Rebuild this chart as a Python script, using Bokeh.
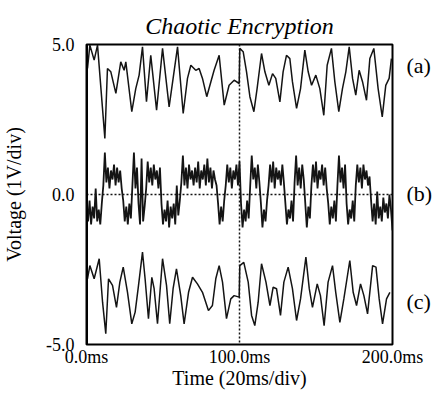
from bokeh.plotting import figure
from bokeh.models import Range1d, FixedTicker, Span, LinearAxis
from bokeh.embed import file_html
from bokeh.resources import INLINE

# ---- data ----
# (a) chaotic carrier
a_t = [0.65, 2.2, 5.0, 7.2, 12.0, 13.7, 15.9, 19.2, 22.4, 24.6, 25.7, 29.6, 32.2, 34.4, 36.6,
       39.2, 42.0, 45.8, 49.7, 54.0, 59.5, 63.2, 66.0, 68.2, 71.4, 73.6, 75.8, 78.6, 81.3, 83.4,
       86.7, 90.0, 93.2, 96.5, 99.8,
       100.2, 102.4, 104.6, 106.8, 109.4, 111.5, 114.4, 116.6, 119.2, 121.6, 123.7, 126.4, 128.5,
       130.7, 132.9, 134.6, 137.3, 139.9, 142.7, 144.9, 147.1, 149.9, 152.5, 155.1, 157.3, 160.1,
       162.3, 164.9, 167.3, 169.5, 171.7, 173.9, 176.0, 178.2, 180.4, 183.0, 185.2, 187.8, 190.6,
       193.3, 195.6, 197.8, 199.3]
a_v = [4.2, 4.98, 4.48, 4.98, 1.87, 4.2, 4.09, 3.37, 4.42, 4.14, 4.42, 2.76, 3.53, 3.98, 4.92,
       3.09, 4.64, 2.81, 4.87, 2.92, 4.92, 2.7, 3.87, 4.31, 4.14, 4.2, 3.87, 3.26, 3.76, 4.14,
       4.64, 2.98, 3.64, 3.81, 3.7,
       4.87, 4.76, 4.09, 3.26, 2.76, 3.53, 4.7, 4.09, 3.64, 4.03, 3.87, 3.09, 4.09,
       4.64, 4.53, 3.76, 2.87, 3.53, 4.81, 4.09, 3.64, 3.98, 3.53, 2.64, 4.31, 4.87,
       3.76, 2.76, 3.53, 4.09, 4.92, 3.87, 3.31, 4.14, 3.76, 3.14, 4.53, 4.87, 3.53,
       2.59, 3.64, 3.87, 4.53]

# (b) encrypted signal, one sample per ms
b_step = 1.0
b_v = [-0.3, -0.9, -0.2, -1.0, -0.4, -0.8, 0.2, -0.9, -0.5, -1.0, -0.3,
       0.3, 1.4, 0.4, 0.9, 0.2, 0.8, 0.5, 1.0, 0.3, 0.9, 0.4, 0.8, 0.2,
       -0.2, -0.9, -0.4, -1.0, -0.3, -0.8,
       0.3, 1.4, 0.2, 0.9,
       -0.3, -1.0, 1.2, -0.9, -0.4,
       0.2, 1.1, 0.4, 0.9, 0.3, 1.0, 0.5, 0.8, 0.2, 0.9,
       -0.3, -1.0, -0.5, -0.9, -0.2, -1.1, -0.4, -0.8, -0.3, -1.0, 0.3, -0.7, -0.2,
       0.4, 1.3, 0.3, 0.9, 0.2, 1.0, 0.5, 0.8, 0.3, 0.9, 0.4, 1.1, 0.2, 0.8, 0.5, 1.0,
       0.3, 1.2, 0.4, 0.9, 0.2, 0.8, 0.5, 0.3,
       -0.3, -1.0, -0.4, -0.9, -0.2,
       0.3, 1.0, 0.4, 0.9, 0.2, 0.8, 0.5, 1.0, 0.3, 1.1,
       -0.3, -1.1, -0.5, -0.9, -0.2, -0.8,
       0.3, 1.3, 0.5, 0.9, 0.2, 1.0, 0.4,
       -0.3, -1.1, -0.5, -0.9, -0.2,
       0.3, 1.0, 0.4, 1.1, 0.2, 0.9, 0.5, 0.8, 0.3, 1.0, 0.4,
       -0.3, -1.0, -0.5, -0.8, -0.2, -0.9,
       0.4, 1.3, 0.3, 0.9, 0.2, 1.0, 0.5,
       -0.3, -1.1, -0.4, -0.8,
       0.3, 1.0, 0.4, 1.1, 0.2, 0.8, 0.5, 1.0, 0.3, 0.9, 0.2,
       -0.3, -1.0, -0.4, -0.8, -0.2, -0.9,
       0.3, 1.3, 0.4, 0.9, 0.2, 1.0,
       -0.3, -1.0, -0.5, -0.8, -0.2, -0.9,
       0.3, 1.0, 0.4, 0.9, 0.2, 1.0, 0.5, 0.8, 0.3, 0.6,
       -0.2, -0.9, -0.3, -1.0, 0.1, -0.8, -0.4, -0.9, -0.1, -0.6, -0.3, -0.8, 0.0, -0.5, -1.2]
b_t = [i * b_step for i in range(len(b_v))]

# (c) recovered signal
c_t = [0.65, 2.2, 5.0, 8.3, 10.5, 12.6, 14.4, 17.0, 19.6, 21.8, 24.0, 26.8, 29.6, 31.8, 34.0,
       36.6, 38.3, 40.5, 42.7, 44.2, 46.4, 49.7, 52.3, 54.4, 56.6, 58.8, 61.6, 63.8, 66.7, 69.3,
       72.5, 75.8, 79.7, 82.3, 84.5, 86.7, 88.9, 91.5, 94.3, 96.5, 99.8,
       100.2, 102.8, 105.7, 107.9, 110.0, 112.2, 114.4, 117.3, 119.9, 122.0, 124.2, 126.8, 129.0,
       131.8, 134.6, 137.3, 139.9, 143.4, 145.6, 147.7, 150.8, 152.9, 155.3, 157.9, 160.8, 162.9,
       165.6, 168.2, 172.1, 174.3, 176.5, 179.1, 181.3, 183.7, 187.0, 189.2, 191.3, 193.5, 196.1,
       198.3]
c_v = [-2.81, -2.37, -2.81, -2.14, -3.59, -4.64, -2.81, -3.03, -3.76, -2.92, -2.42, -3.26, -4.31,
       -3.92, -3.03, -1.92, -2.81, -4.14, -2.76, -3.14, -4.31, -2.14, -3.03, -4.31, -3.14, -2.48,
       -3.37, -4.31, -3.26, -2.76, -2.98, -3.26, -3.87, -3.7, -2.81, -2.37, -2.92, -4.14, -3.48,
       -3.37, -3.42,
       -2.37, -2.26, -2.92, -4.03, -4.37, -3.59, -2.31, -2.92, -3.7, -3.09, -3.14, -4.03, -2.92,
       -2.42, -3.14, -4.2, -3.48, -2.09, -3.14, -3.76, -2.98, -3.37, -4.37, -2.92, -2.37, -3.26,
       -4.26, -3.48, -2.2, -3.26, -3.7, -2.98, -3.37, -3.98, -2.37, -2.42, -3.48, -4.31, -3.48,
       -3.26]

x_ticks = [0, 100, 200]
x_tick_labels = ["0.0ms", "100.0ms", "200.0ms"]
y_ticks = [-5, 0, 5]
y_tick_labels = ["-5.0", "0.0", "5.0"]
trace_names = ["(a)", "(b)", "(c)"]
trace_label_v = [4.3, 0.03, -3.55]

title_text = "Chaotic Encryption"
x_label = "Time (20ms/div)"
y_label = "Voltage (1V/div)"

SERIF = "Liberation Serif"
INK = "#141414"

p = figure(frame_width=306, frame_height=300, output_backend="svg", toolbar_location=None,
           x_range=Range1d(0, 200), y_range=Range1d(-5, 5),
           min_border_left=84, min_border_right=46, min_border_top=44, min_border_bottom=50,
           title=title_text)
p.background_fill_color = "white"
p.border_fill_color = "white"
p.outline_line_color = "black"
p.outline_line_width = 2
p.grid.visible = False

p.title.align = "center"
p.title.text_font = SERIF
p.title.text_font_size = "24px"
p.title.text_font_style = "italic"
p.title.text_color = "black"
p.title.standoff = 11

right_axis = LinearAxis(ticker=FixedTicker(ticks=trace_label_v),
                        major_label_overrides={v: s for v, s in zip(trace_label_v, trace_names)})
p.add_layout(right_axis, "right")

p.xaxis.ticker = FixedTicker(ticks=x_ticks)
p.xaxis.major_label_overrides = {t: s for t, s in zip(x_ticks, x_tick_labels)}
p.yaxis[0].ticker = FixedTicker(ticks=y_ticks)
p.yaxis[0].major_label_overrides = {t: s for t, s in zip(y_ticks, y_tick_labels)}
for ax in list(p.xaxis) + list(p.yaxis):
    ax.axis_line_color = None
    ax.major_tick_line_color = None
    ax.minor_tick_line_color = None
    ax.major_tick_out = 0
    ax.major_tick_in = 0
    ax.minor_tick_out = 0
    ax.minor_tick_in = 0
    ax.major_label_text_font = SERIF
    ax.major_label_text_font_size = "18px"
    ax.major_label_text_color = "black"
    ax.axis_label_text_font = SERIF
    ax.axis_label_text_font_size = "20px"
    ax.axis_label_text_font_style = "normal"
    ax.axis_label_text_color = "black"
right_axis.major_label_text_font_size = "22px"
right_axis.major_label_standoff = 14
p.xaxis.axis_label = x_label
p.yaxis[0].axis_label = y_label
p.xaxis.major_label_standoff = 2
p.yaxis[0].major_label_standoff = 12
p.xaxis.axis_label_standoff = -3
p.yaxis[0].axis_label_standoff = 18

# reference dotted lines
p.add_layout(Span(location=0, dimension="width", line_color=INK, line_width=1.5, line_dash="2 2"))
p.add_layout(Span(location=100, dimension="height", line_color=INK, line_width=1.5, line_dash="2 2"))
# thicker left edge
p.add_layout(Span(location=0, dimension="height", line_color="black", line_width=3))

p.line(a_t, a_v, line_color=INK, line_width=1.5)
p.line(b_t, b_v, line_color=INK, line_width=1.8)
p.line(c_t, c_v, line_color=INK, line_width=1.5)

open("out.html", "w").write(file_html(p, INLINE))
